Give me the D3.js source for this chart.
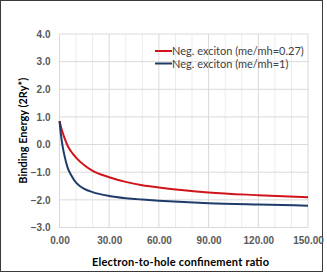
<!DOCTYPE html>
<html>
<head>
<meta charset="utf-8">
<script src="https://cdn.jsdelivr.net/npm/d3@7"></script>
<style>
  body { margin: 0; background: #fff; }
  svg { display: block; font-family: Lato, "Open Sans", sans-serif; }
</style>
</head>
<body>
<svg id="chart" width="327" height="273"></svg>
<script>
// data
const ratio = [0, 1, 2, 3, 5, 7, 10, 15, 20, 30, 40, 50, 60, 75, 90, 120, 150];
const negExciton027 = [0.85, 0.62, 0.42, 0.24, -0.05, -0.25, -0.47, -0.75, -0.95, -1.18, -1.35, -1.47, -1.55, -1.65, -1.73, -1.83, -1.91];
const negExciton1 = [0.85, 0.3, -0.1, -0.4, -0.85, -1.1, -1.38, -1.6, -1.72, -1.86, -1.94, -1.99, -2.03, -2.08, -2.12, -2.17, -2.21];
const seriesNames = ["Neg. exciton (me/mh=0.27)", "Neg. exciton (me/mh=1)"];
const seriesColors = ["#d0141b", "#1f3b6b"];
const xTicks = [0, 30, 60, 90, 120, 150];
const yTicks = [-3, -2, -1, 0, 1, 2, 3, 4];

const svg = d3.select("#chart");

// chart frame
svg.append("rect")
    .attr("x", 0.5).attr("y", 0.5)
    .attr("width", 322).attr("height", 271)
    .attr("fill", "#fff")
    .attr("stroke", "#3a3a3a");

const x = d3.scaleLinear().domain([0, 150]).range([59.5, 308]);
const y = d3.scaleLinear().domain([-3, 4]).range([227.5, 34]);

// minor vertical grid every 10
svg.append("g").selectAll("line")
    .data(d3.range(10, 151, 10).filter(v => v % 30 !== 0))
    .join("line")
    .attr("x1", d => x(d)).attr("x2", d => x(d))
    .attr("y1", y(4)).attr("y2", y(-3))
    .attr("stroke", "#ececec");

// major grid
svg.append("g").selectAll("line")
    .data(xTicks)
    .join("line")
    .attr("x1", d => x(d)).attr("x2", d => x(d))
    .attr("y1", y(4)).attr("y2", y(-3))
    .attr("stroke", "#d9d9d9");

svg.append("g").selectAll("line")
    .data(yTicks)
    .join("line")
    .attr("x1", x(0)).attr("x2", x(150))
    .attr("y1", d => y(d)).attr("y2", d => y(d))
    .attr("stroke", "#d9d9d9");

// axes (labels only)
const xAxis = svg.append("g")
    .attr("transform", `translate(0,${y(-3)})`)
    .call(d3.axisBottom(x).tickValues(xTicks).tickSize(0).tickPadding(9).tickFormat(d3.format(".2f")));
xAxis.select(".domain").remove();
xAxis.selectAll("text").attr("fill", "#595959").style("font-size", "10px").style("font-weight", "bold");

const yAxis = svg.append("g")
    .attr("transform", `translate(${x(0)},0)`)
    .call(d3.axisLeft(y).tickValues(yTicks).tickSize(0).tickPadding(9).tickFormat(d3.format(".1f")));
yAxis.select(".domain").remove();
yAxis.selectAll("text").attr("fill", "#595959").style("font-size", "10px").style("font-weight", "bold");

// series
const line = d3.line()
    .x((d, i) => x(ratio[i]))
    .y(d => y(d))
    .curve(d3.curveMonotoneX);

[negExciton027, negExciton1].forEach((vals, k) => {
    svg.append("path")
        .datum(vals)
        .attr("d", line)
        .attr("fill", "none")
        .attr("stroke", seriesColors[k])
        .attr("stroke-width", 2);
});

// legend
const legend = svg.append("g").attr("transform", "translate(155,51)");
seriesNames.forEach((name, k) => {
    const g = legend.append("g").attr("transform", `translate(0,${k * 12.5})`);
    g.append("line")
        .attr("x1", 0).attr("x2", 17)
        .attr("stroke", seriesColors[k]).attr("stroke-width", 2);
    g.append("text")
        .attr("x", 17).attr("y", 4)
        .attr("fill", "#404040")
        .style("font-size", "11px")
        .text(name);
});

// axis titles
svg.append("text")
    .attr("x", 180.5).attr("y", 266)
    .attr("text-anchor", "middle")
    .attr("textLength", 177)
    .style("font-size", "11px").style("font-weight", "bold")
    .attr("fill", "#000")
    .text("Electron-to-hole confinement ratio");

svg.append("text")
    .attr("transform", `translate(27,${(y(4) + y(-3)) / 2}) rotate(-90)`)
    .attr("text-anchor", "middle")
    .style("font-size", "11px").style("font-weight", "bold")
    .attr("fill", "#000")
    .text("Binding Energy (2Ry*)");
</script>
</body>
</html>
